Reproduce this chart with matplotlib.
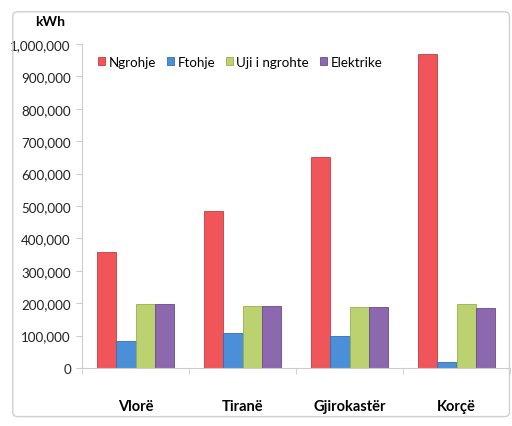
import matplotlib.pyplot as plt
import numpy as np
from matplotlib.patches import FancyBboxPatch
from matplotlib.ticker import FuncFormatter

qytetet = ["Vlorë", "Tiranë", "Gjirokastër", "Korçë"]
seri = ["Ngrohje", "Ftohje", "Uji i ngrohte", "Elektrike"]
ngrohje = [358000, 485000, 652000, 968000]
ftohje = [84000, 108000, 98000, 18000]
uji = [197000, 190000, 188000, 197000]
elektrike = [197000, 190000, 188000, 185000]

ngjyrat = ["#f0555a", "#4a8fd8", "#bcd270", "#8c68ae"]
skajet = ["#c83c40", "#2f6fb4", "#98ae4c", "#6a4a8a"]

plt.rcParams['font.family'] = ['Lato', 'DejaVu Sans']

fig = plt.figure(figsize=(5.12, 4.27), dpi=100)
# kuadri i grafikut
fig.patches.append(FancyBboxPatch((0.025, 0.022), 0.97, 0.948, boxstyle="round,pad=0,rounding_size=0.01",
                                  transform=fig.transFigure, fill=False, edgecolor="#d0d0d0", lw=1))

ax = fig.add_axes([82 / 512, 1 - 369 / 427, 428 / 512, 324 / 427])

x = np.arange(len(qytetet))
w = 0.182
vlerat = [ngrohje, ftohje, uji, elektrike]
for i, v in enumerate(vlerat):
    ax.bar(x + (i - 1.5) * w, v, width=w, color=ngjyrat[i], edgecolor=skajet[i], linewidth=0.6,
           label=seri[i], zorder=2)

ax.set_xlim(-0.5, 3.5)
ax.set_ylim(0, 1000000)
ax.set_yticks(np.arange(0, 1000001, 100000))
ax.yaxis.set_major_formatter(FuncFormatter(lambda v, p: f"{int(v):,}"))
ax.set_xticks(x)
ax.set_xticklabels(qytetet, fontweight='bold', fontsize=10.5)
ax.set_xticks(np.arange(-0.5, 4, 1), minor=True)
ax.tick_params(axis='x', which='major', length=0, pad=22)
ax.tick_params(axis='x', which='minor', length=4, color="#cccccc", direction='out')
ax.tick_params(axis='y', length=4, color="#cccccc", labelsize=9.6, pad=4, labelcolor="#222222")

for s in ["top", "right"]:
    ax.spines[s].set_visible(False)
ax.spines["left"].set_color("#cccccc")
ax.spines["bottom"].set_color("#cccccc")

fig.text(50 / 512, 1 - 22 / 427, "kWh", fontweight='bold', fontsize=10, ha='center', va='center')

ax.legend(loc='center left', bbox_to_anchor=(0.025, 0.945), ncol=4, frameon=False, fontsize=9.6,
          handlelength=0.55, handleheight=0.55, handletextpad=0.25, columnspacing=0.8,
          borderaxespad=0)

fig.savefig("out.png", dpi=100)
